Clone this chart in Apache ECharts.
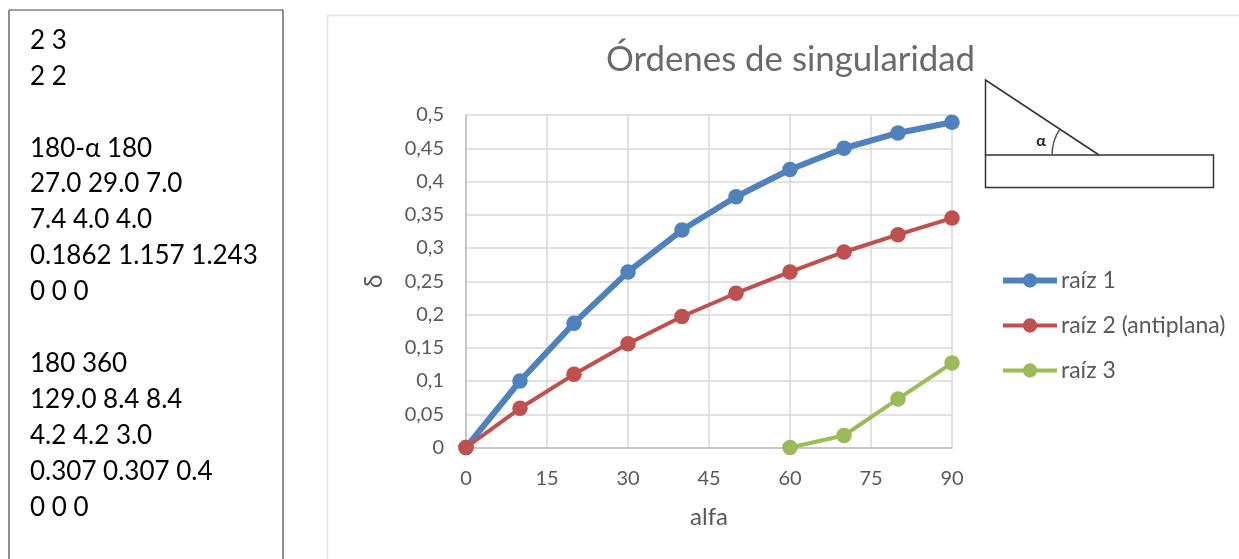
<!DOCTYPE html>
<html><head><meta charset="utf-8">
<style>html,body{margin:0;padding:0;background:#fff}#c{width:1239px;height:559px}</style>
<script src="https://cdn.jsdelivr.net/npm/echarts@6/dist/echarts.min.js"></script>
</head><body><div id="c"></div>
<script>
const FONT = 'Lato, "Open Sans", sans-serif';
const alfa = [0,10,20,30,40,50,60,70,80,90];
const raiz1 = [0,0.1,0.187,0.264,0.327,0.377,0.418,0.45,0.473,0.489];
const raiz2 = [0,0.059,0.11,0.156,0.197,0.232,0.264,0.294,0.32,0.345];
const raiz3 = [null,null,null,null,null,null,0,0.018,0.073,0.127];
const noteLines = ['2 3','2 2','','180-α 180','27.0 29.0 7.0','7.4 4.0 4.0','0.1862 1.157 1.243','0 0 0','','180 360','129.0 8.4 8.4','4.2 4.2 3.0','0.307 0.307 0.4','0 0 0'];
const pairs = a => alfa.map((x,i)=>[x,a[i]]);
const ser = (name,data,color,width,size)=>({name,type:'line',data:pairs(data),symbol:'circle',symbolSize:size,showSymbol:true,
  lineStyle:{color,width},itemStyle:{color},connectNulls:false,animation:false,z:name==='raíz 1'?2:name==='raíz 2 (antiplana)'?3:4});
const line=(x1,y1,x2,y2,c,w)=>({type:'line',shape:{x1,y1,x2,y2},style:{stroke:c||'#333',lineWidth:w||1.5},silent:true});
const chart = echarts.init(document.getElementById('c'),null,{renderer:'canvas'});
chart.setOption({
  animation:false,backgroundColor:'#fff',
  title:{text:'Órdenes de singularidad',left:785.5,top:37,textAlign:'center',textStyle:{fontFamily:FONT,fontSize:34.8,fontWeight:'normal',color:'#6a6a6a'}},
  grid:{left:466,right:287,top:115,bottom:111.5,containLabel:false},
  xAxis:{type:'value',min:0,max:90,interval:15,name:'alfa',nameLocation:'middle',nameGap:58,
    nameTextStyle:{fontFamily:FONT,fontSize:24,color:'#595959'},
    axisLine:{lineStyle:{color:'#bfbfbf',width:1.5}},axisTick:{show:false},
    axisLabel:{fontFamily:FONT,fontSize:20,color:'#595959',margin:21},
    splitLine:{show:true,lineStyle:{color:'#d9d9d9',width:1.5}}},
  yAxis:{type:'value',min:0,max:0.5,interval:0.05,name:'δ',nameLocation:'middle',nameGap:80,
    nameTextStyle:{fontFamily:FONT,fontSize:25,color:'#595959'},
    axisLine:{show:true,lineStyle:{color:'#bfbfbf',width:1.5}},axisTick:{show:false},
    axisLabel:{fontFamily:FONT,fontSize:20,color:'#595959',margin:22,formatter:v=>String(+v.toFixed(2)).replace('.',',')},
    splitLine:{show:true,lineStyle:{color:'#d9d9d9',width:1.5}}},
  legend:{orient:'vertical',left:995,top:264,itemWidth:54,itemHeight:18,itemGap:22,
    textStyle:{fontFamily:FONT,fontSize:23,color:'#595959',padding:[0,0,0,-1]},
    data:[{name:'raíz 1',lineStyle:{width:6,color:'#4f81bd'}},{name:'raíz 2 (antiplana)',lineStyle:{width:4,color:'#c0504d'}},{name:'raíz 3',lineStyle:{width:4,color:'#9bbb59'}}]},
  series:[ser('raíz 1',raiz1,'#4f81bd',6,15.5),ser('raíz 2 (antiplana)',raiz2,'#c0504d',4,15.5),ser('raíz 3',raiz3,'#9bbb59',4,15.5)],
  graphic:[
    line(9,10,283,10,'#444',1.2),line(9,10,9,559,'#444',1.2),line(283,10,283,559,'#444',1.2),
    line(327,15.5,1239,15.5,'#e3e3e3',1.5),line(327.5,15,327.5,559,'#e3e3e3',1.5),
    ...noteLines.map((t,i)=>({type:'text',x:30,y:40.5+i*35.9,style:{text:t,font:'26px '+FONT,fill:'#000',textVerticalAlign:'middle'},silent:true})),
    {type:'polyline',shape:{points:[[985.5,155],[985.5,80],[1099,155]]},style:{stroke:'#333',fill:null,lineWidth:1.5},silent:true},
    {type:'rect',shape:{x:985.5,y:155,width:228,height:32.5},style:{stroke:'#333',fill:'#fff',lineWidth:1.5},silent:true},
    {type:'arc',shape:{cx:1099,cy:155,r:47,startAngle:Math.PI,endAngle:Math.PI+0.585},style:{stroke:'#555',fill:null,lineWidth:1.5},silent:true},
    {type:'text',x:1041,y:141,style:{text:'α',font:'bold 16px '+FONT,fill:'#222',textAlign:'center',textVerticalAlign:'middle'},silent:true}
  ]
});
</script></body></html>
